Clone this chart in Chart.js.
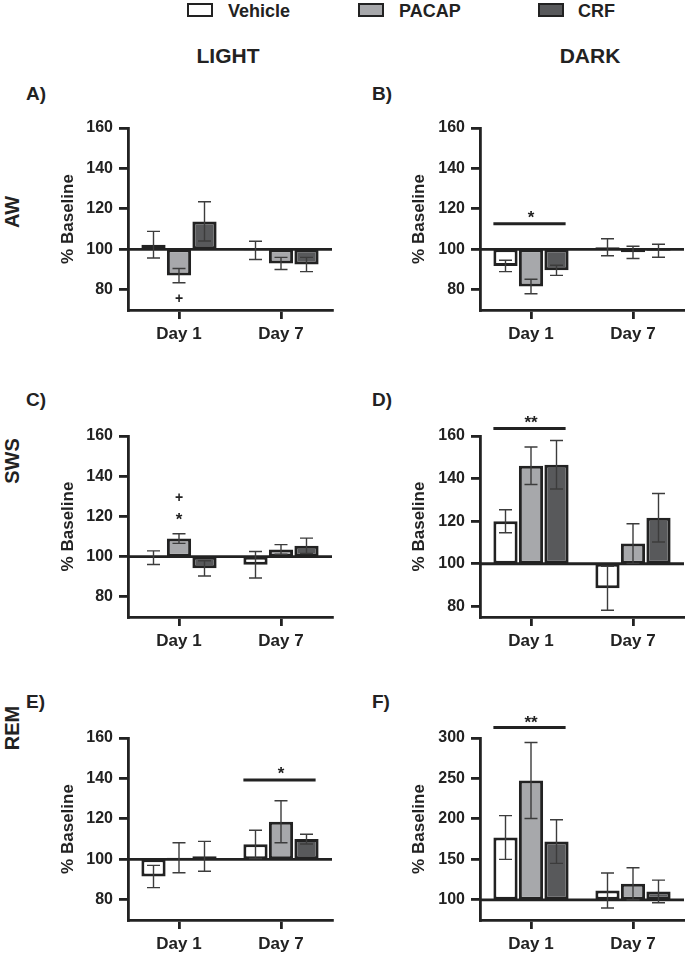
<!DOCTYPE html>
<html>
<head>
<meta charset="utf-8">
<script src="https://cdn.jsdelivr.net/npm/chart.js@4.4.1/dist/chart.umd.min.js"></script>
<style>
  body { margin: 0; background: #fff; width: 685px; height: 954px; position: relative; overflow: hidden;
         font-family: "Liberation Sans", Arial, sans-serif; font-weight: bold; color: #222; }
  canvas { position: absolute; }
  .lbl { position: absolute; white-space: nowrap; line-height: 1; }
  .box { position: absolute; width: 22px; height: 10px; border: 2px solid #222; }
</style>
</head>
<body>
<div class="box" style="left:187px;top:3px;background:#ffffff"></div>
<div class="lbl" style="left:228px;top:2px;font-size:18px">Vehicle</div>
<div class="box" style="left:358px;top:3px;background:#a7a8ab"></div>
<div class="lbl" style="left:399px;top:2px;font-size:18px">PACAP</div>
<div class="box" style="left:538px;top:3px;background:#58595b"></div>
<div class="lbl" style="left:578px;top:2px;font-size:18px">CRF</div>

<div class="lbl" style="left:228px;top:55px;font-size:21px;transform:translate(-50%,-50%)">LIGHT</div>
<div class="lbl" style="left:590px;top:55px;font-size:21px;transform:translate(-50%,-50%)">DARK</div>

<div class="lbl" style="left:26px;top:84px;font-size:19px">A)</div>
<div class="lbl" style="left:372px;top:84px;font-size:19px">B)</div>
<div class="lbl" style="left:26px;top:390px;font-size:19px">C)</div>
<div class="lbl" style="left:372px;top:390px;font-size:19px">D)</div>
<div class="lbl" style="left:26px;top:692px;font-size:19px">E)</div>
<div class="lbl" style="left:372px;top:692px;font-size:19px">F)</div>

<div class="lbl" style="left:12px;top:212px;font-size:20px;transform:translate(-50%,-50%) rotate(-90deg)">AW</div>
<div class="lbl" style="left:12px;top:461px;font-size:20px;transform:translate(-50%,-50%) rotate(-90deg)">SWS</div>
<div class="lbl" style="left:12px;top:728px;font-size:20px;transform:translate(-50%,-50%) rotate(-90deg)">REM</div>

<script>
const days = ['Day 1', 'Day 7'];
const groups = ['Vehicle', 'PACAP', 'CRF'];
const fills = ['#ffffff', '#a7a8ab', '#58595b'];

const ticks160 = [80, 100, 120, 140, 160];
const ticks300 = [100, 150, 200, 250, 300];

// rows: Vehicle, PACAP, CRF ; columns: Day 1, Day 7
const awLightMean = [[102.3, 99.5], [87, 93], [113.8, 92.5]];
const awLightSem  = [[6.6, 4.5], [3.5, 3], [9.7, 3.5]];
const awDarkMean  = [[91.8, 101], [81.6, 98.5], [89.6, 99.3]];
const awDarkSem   = [[2.8, 4.2], [3.6, 3], [2.5, 3.2]];

const swsLightMean = [[99.5, 96], [109, 103.6], [94.2, 105.4]];
const swsLightSem  = [[3.4, 6.6], [2.4, 2.4], [3.8, 3.8]];
const swsDarkMean  = [[120, 88.5], [146, 109.5], [146.5, 121.6]];
const swsDarkSem   = [[5.4, 10.3], [8.8, 9.3], [11.4, 11.4]];

const remLightMean = [[91.5, 107.4], [100.8, 118.6], [101.5, 110]];
const remLightSem  = [[5.5, 7], [7.4, 10.4], [7.4, 2.4]];
const remDarkMean  = [[177, 111.5], [247.5, 119.8], [172, 110.3]];
const remDarkSem   = [[27, 21.6], [47, 19.8], [27, 14]];

// significance marks: bar = series index (or group centre when absent)
const awLightMarks  = [{ text: '+', bar: 1, day: 0, value: 76 }];
const awDarkMarks   = [{ text: '*', day: 0, value: 118 }];
const awDarkLines   = [{ day: 0, value: 112.7 }];
const swsLightMarks = [{ text: '+', bar: 1, day: 0, value: 129.5 }, { text: '*', bar: 1, day: 0, value: 120.7 }];
const swsDarkMarks  = [{ text: '**', day: 0, value: 168.3 }];
const swsDarkLines  = [{ day: 0, value: 163.5 }];
const remLightMarks = [{ text: '*', day: 1, value: 144.4 }];
const remLightLines = [{ day: 1, value: 139.2 }];
const remDarkMarks  = [{ text: '**', day: 0, value: 324 }];
const remDarkLines  = [{ day: 0, value: 313 }];

Chart.defaults.font.family = '"Liberation Sans", Arial, sans-serif';
Chart.defaults.color = '#222';

const rise = { '*': 0.58, '**': 0.58, '+': 0.35 };

const extras = {
  id: 'extras',
  afterDatasetsDraw(chart) {
    const p = chart.options.plugins.extras;
    const ctx = chart.ctx, y = chart.scales.y, area = chart.chartArea;
    ctx.save();
    const y100 = y.getPixelForValue(100);
    ctx.strokeStyle = '#222';
    ctx.lineWidth = 2.8;
    ctx.beginPath();
    ctx.moveTo(area.left, y100);
    ctx.lineTo(area.right, y100);
    ctx.stroke();

    ctx.strokeStyle = '#3c3c3c';
    ctx.lineWidth = 1.4;
    chart.data.datasets.forEach((ds, i) => {
      chart.getDatasetMeta(i).data.forEach((bar, j) => {
        const m = p.mean[i][j], e = p.sem[i][j];
        const t = y.getPixelForValue(m + e), b = y.getPixelForValue(m - e);
        ctx.beginPath();
        ctx.moveTo(bar.x, t); ctx.lineTo(bar.x, b);
        ctx.moveTo(bar.x - 6.5, t); ctx.lineTo(bar.x + 6.5, t);
        ctx.moveTo(bar.x - 6.5, b); ctx.lineTo(bar.x + 6.5, b);
        ctx.stroke();
      });
    });

    const first = chart.getDatasetMeta(0).data, last = chart.getDatasetMeta(2).data;
    ctx.strokeStyle = '#222';
    ctx.lineWidth = 3;
    p.lines.forEach(l => {
      const yy = y.getPixelForValue(l.value);
      ctx.beginPath();
      ctx.moveTo(first[l.day].x - first[l.day].width / 2, yy);
      ctx.lineTo(last[l.day].x + last[l.day].width / 2 - 3, yy);
      ctx.stroke();
    });

    ctx.fillStyle = '#222';
    ctx.textAlign = 'center';
    ctx.textBaseline = 'alphabetic';
    p.marks.forEach(mk => {
      const size = mk.text === '+' ? 14 : 17;
      ctx.font = 'bold ' + size + 'px "Liberation Sans", Arial, sans-serif';
      const x = mk.bar === undefined ? chart.scales.x.getPixelForValue(mk.day)
                                     : chart.getDatasetMeta(mk.bar).data[mk.day].x;
      const yy = y.getPixelForValue(mk.value) + rise[mk.text] * size;
      ctx.fillText(mk.text, x, yy);
    });
    ctx.restore();
  }
};

const panels = [
  { left: 0,   top: 100, w: 345, h: 260, padL: 48, yW: 80, padR: 13, padT: 28, xH: 50, min: 70, max: 160, ticks: ticks160, mean: awLightMean,  sem: awLightSem,  marks: awLightMarks,  lines: [] },
  { left: 345, top: 100, w: 340, h: 260, padL: 54, yW: 81, padR: 1,  padT: 28, xH: 50, min: 70, max: 160, ticks: ticks160, mean: awDarkMean,   sem: awDarkSem,   marks: awDarkMarks,   lines: awDarkLines },
  { left: 0,   top: 405, w: 345, h: 260, padL: 48, yW: 80, padR: 13, padT: 31, xH: 48, min: 70, max: 160, ticks: ticks160, mean: swsLightMean, sem: swsLightSem, marks: swsLightMarks, lines: [] },
  { left: 345, top: 405, w: 340, h: 260, padL: 54, yW: 81, padR: 1,  padT: 31, xH: 48, min: 75, max: 160, ticks: ticks160, mean: swsDarkMean,  sem: swsDarkSem,  marks: swsDarkMarks,  lines: swsDarkLines },
  { left: 0,   top: 708, w: 345, h: 246, padL: 48, yW: 80, padR: 13, padT: 30, xH: 34, min: 70, max: 160, ticks: ticks160, mean: remLightMean, sem: remLightSem, marks: remLightMarks, lines: remLightLines },
  { left: 345, top: 708, w: 340, h: 246, padL: 54, yW: 81, padR: 1,  padT: 30, xH: 34, min: 75, max: 300, ticks: ticks300, mean: remDarkMean,  sem: remDarkSem,  marks: remDarkMarks,  lines: remDarkLines }
];

panels.forEach(cfg => {
  const canvas = document.createElement('canvas');
  canvas.width = cfg.w;
  canvas.height = cfg.h;
  canvas.style.left = cfg.left + 'px';
  canvas.style.top = cfg.top + 'px';
  document.body.appendChild(canvas);

  new Chart(canvas.getContext('2d'), {
    type: 'bar',
    data: {
      labels: days,
      datasets: groups.map((g, i) => ({
        label: g,
        data: cfg.mean[i].map(v => [100, v]),
        backgroundColor: fills[i],
        borderColor: '#222',
        borderWidth: 3,
        borderSkipped: false,
        categoryPercentage: 0.75,
        barPercentage: 0.95
      }))
    },
    options: {
      responsive: false,
      animation: false,
      layout: { padding: { left: cfg.padL, right: cfg.padR, top: cfg.padT, bottom: 0 } },
      plugins: {
        legend: { display: false },
        tooltip: { enabled: false },
        extras: { mean: cfg.mean, sem: cfg.sem, marks: cfg.marks, lines: cfg.lines }
      },
      scales: {
        x: {
          offset: true,
          grid: { drawOnChartArea: false, tickLength: 9, offset: false, color: '#222', lineWidth: 2.8 },
          border: { color: '#222', width: 2.8 },
          ticks: { font: { size: 17, weight: 'bold' }, color: '#222', padding: 5, maxRotation: 0 },
          afterFit: s => { s.height = cfg.xH; }
        },
        y: {
          min: cfg.min,
          max: cfg.max,
          afterBuildTicks: s => { s.ticks = cfg.ticks.map(v => ({ value: v })); },
          grid: { drawOnChartArea: false, tickLength: 9, color: '#222', lineWidth: 2.8 },
          border: { color: '#222', width: 2.8 },
          ticks: { font: { size: 16, weight: 'bold' }, color: '#222', padding: 6 },
          title: { display: true, text: '% Baseline', font: { size: 17, weight: 'bold' }, color: '#222', padding: { top: 10, bottom: 0 } },
          afterFit: s => { s.width = cfg.yW; }
        }
      }
    },
    plugins: [extras]
  });
});
</script>
</body>
</html>
